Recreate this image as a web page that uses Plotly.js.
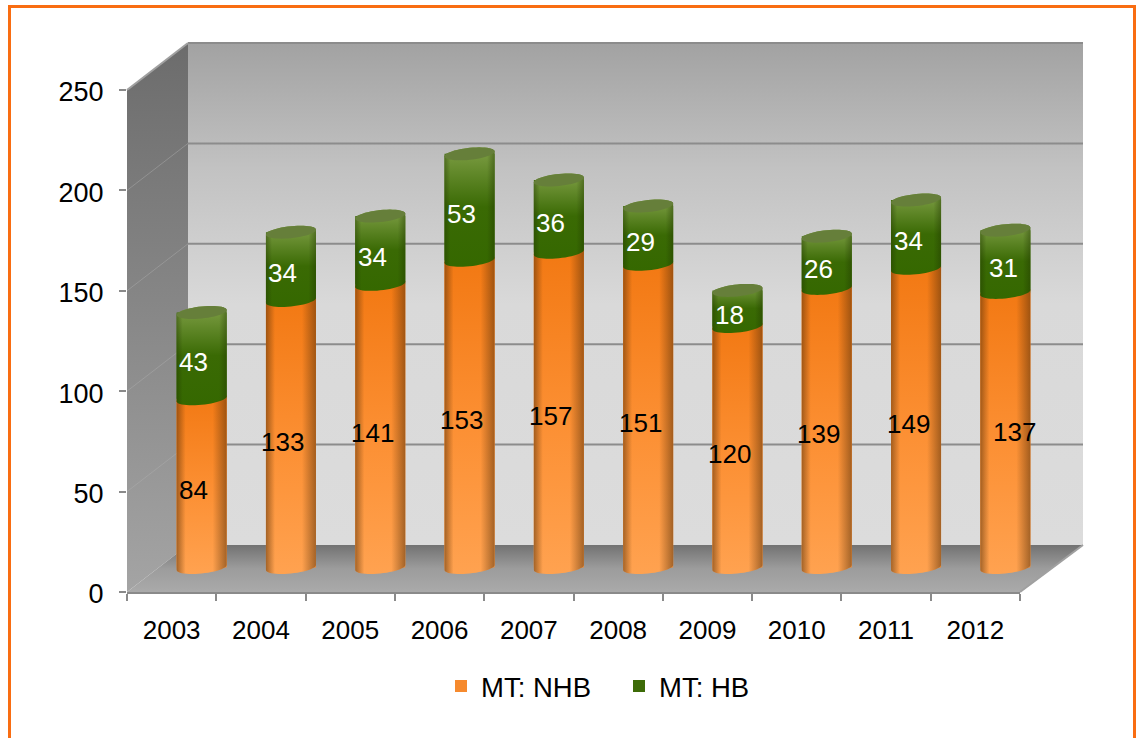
<!DOCTYPE html>
<html>
<head>
<meta charset="utf-8">
<script src="https://cdn.plot.ly/plotly-3.0.1.min.js"></script>
<style>html,body{margin:0;padding:0;background:#fff;overflow:hidden}</style>
</head>
<body>
<div id="chart" style="width:1140px;height:738px"></div>
<script>
// ---- data ----
const years = ['2003','2004','2005','2006','2007','2008','2009','2010','2011','2012'];
const nhb = [84,133,141,153,157,151,120,139,149,137];
const hb = [43,34,34,53,36,29,18,26,34,31];
const gridValues = [50,100,150,200,250];
// small label nudges, in pixels
const nhbDx = [-8,-8,-8,-8,-8,-8,-8,-8,-8,9];
const hbDx = [-8,-8,-8,-8,-8,-8,-8,-8,-8,-2];
const nhbDy = [0,-2,-1,0,0,-1,0,0,0,4];

const W = 1140, H = 738;
const FONT = '"Liberation Sans", Arial, sans-serif';
const front = {x0:127, x1:1020, y0:592, y1:90};
const back = {x0:188, x1:1083, y0:545, y1:43};
const pxPerVal = 502/250;
const BELOW = 20;   // value room under the baseline, so the rounded bottoms are not clipped
const plane = {x0:157, x1:1050, y0:567.5+BELOW*pxPerVal, y1:65.5};
const pxPerCat = (plane.x1-plane.x0)/10;
const barW = 50/pxPerCat, RX = 25, RY = 6, TILT = 2.5;
const idx = years.map((_,i)=>i);

const domX = p => [p.x0/W, p.x1/W];
const domY = p => [1-p.y0/H, 1-p.y1/H];

// half-ellipse outline around a category / value point
function arc(i, v, tFrom, tTo, n) {
  const xs=[], ys=[];
  for (let k=0;k<=n;k++) {
    const t = tFrom + (tTo-tFrom)*k/n;
    xs.push(i + RX*Math.cos(t)/pxPerCat);
    ys.push(v + (RY*Math.sin(t) + TILT*Math.cos(t))/pxPerVal);
  }
  return [xs,ys];
}
function bodyOutline(i, v0, v1) {
  // lower arc of base from left to right, then upper arc of top from right to left
  const a = arc(i, v0, Math.PI, 2*Math.PI, 24);
  const b = arc(i, v1, 0, Math.PI, 24);
  return [a[0].concat(b[0], [a[0][0]]), a[1].concat(b[1], [a[1][0]])];
}
function fillTrace(o, grad, ax) {
  return {type:'scatter', mode:'none', x:o[0], y:o[1], fill:'toself',
    fillgradient:grad, fillcolor:'rgba(0,0,0,0)', xaxis:ax[0], yaxis:ax[1],
    hoverinfo:'skip', showlegend:false, cliponaxis:false};
}
const AX3 = ['x3','y3'], AX1 = ['x','y'];

const traces = [];
// ---- box walls, on the pixel frame axis ----
function wall(xs, ys, scale) {
  traces.push(fillTrace([xs,ys], {type:'vertical', colorscale:scale}, AX1));
}
wall([front.x0,back.x0,back.x0,front.x0,front.x0],[front.y1,back.y1,back.y0,front.y0,front.y1],
  [[0,'#a4a4a4'],[0.55,'#858585'],[1,'#6c6c6c']]);
wall([back.x0,back.x1,back.x1,back.x0,back.x0],[back.y1,back.y1,back.y0,back.y0,back.y1],
  [[0,'#dcdcdc'],[0.48,'#d9d9d9'],[0.75,'#c2c2c2'],[1,'#a2a2a2']]);
wall([front.x0,front.x1,back.x1,back.x0,front.x0],[front.y0,front.y0,back.y0,back.y0,front.y0],
  [[0,'#aaaaaa'],[0.5,'#9c9c9c'],[1,'#727272']]);
// back-wall gridlines and their diagonals on the side wall
gridValues.forEach(v => {
  const k = (back.y0-back.y1)/250;
  traces.push({type:'scatter', mode:'lines', x:[back.x0,back.x1], y:[back.y0-k*v,back.y0-k*v],
    line:{color:'#8c8c8c',width:2}, xaxis:'x', yaxis:'y', hoverinfo:'skip', showlegend:false});
  traces.push({type:'scatter', mode:'lines', x:[front.x0,back.x0], y:[front.y0-k*v,back.y0-k*v],
    line:{color: v===250 ? '#a0a0a0' : 'rgba(175,175,175,0.45)',width:v===250?2:1}, xaxis:'x', yaxis:'y', hoverinfo:'skip', showlegend:false});
});
traces.push({type:'scatter', mode:'lines', x:[front.x1,back.x1], y:[front.y0,back.y0],
  line:{color:'#a0a0a0',width:2}, xaxis:'x', yaxis:'y', hoverinfo:'skip', showlegend:false});

// ---- front axis carrier (tick labels by category) ----
traces.push({type:'scatter', mode:'none', x:years, y:nhb, xaxis:'x2', yaxis:'y2', hoverinfo:'skip', showlegend:false});

// ---- real stacked bars ----
traces.push({type:'bar', name:'MT: NHB', x:idx, y:nhb, width:barW, marker:{color:'#f68a2e',line:{width:0}}, xaxis:'x3', yaxis:'y3', offsetgroup:'a'});
traces.push({type:'bar', name:'MT: HB', x:idx, y:hb, base:nhb, width:barW, marker:{color:'#3d6b08',line:{width:0}}, xaxis:'x3', yaxis:'y3', offsetgroup:'a'});

// ---- cylinder shading built from the same values ----
idx.forEach(i => {
  const total = nhb[i]+hb[i];
  const orange = bodyOutline(i, 0, nhb[i]);
  const green = bodyOutline(i, nhb[i], total);
  traces.push(fillTrace(orange, {type:'vertical', colorscale:[[0,'#ffa250'],[0.45,'#fc9034'],[1,'#f27812']]}, AX3));
  traces.push(fillTrace(orange, {type:'horizontal', colorscale:[[0,'rgba(90,50,10,0.55)'],[0.18,'rgba(90,50,10,0)'],[0.72,'rgba(90,50,10,0)'],[1,'rgba(90,50,10,0.55)']]}, AX3));
  traces.push(fillTrace(green, {type:'vertical', colorscale:[[0,'#356800'],[0.5,'#3a6a04'],[1,'#7f9f46']]}, AX3));
  traces.push(fillTrace(green, {type:'horizontal', colorscale:[[0,'rgba(30,50,0,0.4)'],[0.12,'rgba(30,50,0,0)'],[0.85,'rgba(30,50,0,0)'],[1,'rgba(30,50,0,0.4)']]}, AX3));
  const cap = arc(i, total, 0, 2*Math.PI, 48);
  traces.push({type:'scatter', mode:'none', x:cap[0], y:cap[1], fill:'toself', fillcolor:'#667f3a',
    xaxis:'x3', yaxis:'y3', hoverinfo:'skip', showlegend:false, cliponaxis:false});
});

// ---- value labels ----
const LABEL_DOWN = -7.5;
const annotations = [];
idx.forEach(i => {
  annotations.push({x:i, y:nhb[i]/2, xref:'x3', yref:'y3', text:String(nhb[i]), showarrow:false,
    xshift:nhbDx[i], yshift:LABEL_DOWN+1+nhbDy[i], font:{family:FONT,size:26,color:'#000'}});
  annotations.push({x:i, y:nhb[i]+hb[i]/2, xref:'x3', yref:'y3', text:String(hb[i]), showarrow:false,
    xshift:hbDx[i], yshift:LABEL_DOWN+1, font:{family:FONT,size:26,color:'#fff'}});
});

const hidden = {visible:false, fixedrange:true};
const layout = {
  width:W, height:H, autosize:false, showlegend:true,
  margin:{l:0,r:0,t:0,b:0,pad:0},
  paper_bgcolor:'#fff', plot_bgcolor:'rgba(0,0,0,0)',
  font:{family:FONT,size:26,color:'#000'},
  barmode:'overlay',
  xaxis:Object.assign({domain:[0,1],range:[0,W],anchor:'y'},hidden),
  yaxis:Object.assign({domain:[0,1],range:[H,0],anchor:'x'},hidden),
  xaxis2:{domain:domX(front), anchor:'y2', type:'category', categoryorder:'array', categoryarray:years,
    range:[-0.5,9.5], tickson:'boundaries', ticks:'outside', ticklen:7, tickwidth:2, tickcolor:'#8a8a8a',
    showline:true, linecolor:'#8a8a8a', linewidth:2, showgrid:false, zeroline:false,
    tickfont:{family:FONT,size:26,color:'#000'}, ticklabelstandoff:14, fixedrange:true},
  yaxis2:{domain:domY(front), anchor:'x2', range:[0,250], tickvals:[0,50,100,150,200,250],
    ticks:'outside', ticklen:7, tickwidth:2, tickcolor:'#8a8a8a', showline:false, showgrid:false, zeroline:false,
    tickfont:{family:FONT,size:27,color:'#000'}, ticklabelstandoff:10, ticklabelshift:2, fixedrange:true},
  xaxis3:Object.assign({domain:domX(plane),anchor:'y3',range:[-0.5,9.5]},hidden),
  yaxis3:Object.assign({domain:domY(plane),anchor:'x3',range:[-BELOW,250]},hidden),
  legend:{orientation:'h', x:441/W, xanchor:'left', y:1-686/H, yanchor:'middle',
    entrywidth:133, entrywidthmode:'pixels',
    font:{family:FONT,size:27.5,color:'#000'}, bgcolor:'rgba(0,0,0,0)', traceorder:'normal', itemclick:false, itemdoubleclick:false},
  shapes:[{type:'path', xref:'paper', yref:'paper', layer:'above',
    path:'M '+(9.5/W)+' 0 L '+(9.5/W)+' '+(1-6.5/H)+' L '+(1134.5/W)+' '+(1-6.5/H)+' L '+(1134.5/W)+' 0',
    line:{color:'#f96d12',width:3}, fillcolor:'rgba(0,0,0,0)'}],
  annotations:annotations
};
Plotly.newPlot('chart', traces, layout, {displayModeBar:false, staticPlot:true});
</script>
</body>
</html>
